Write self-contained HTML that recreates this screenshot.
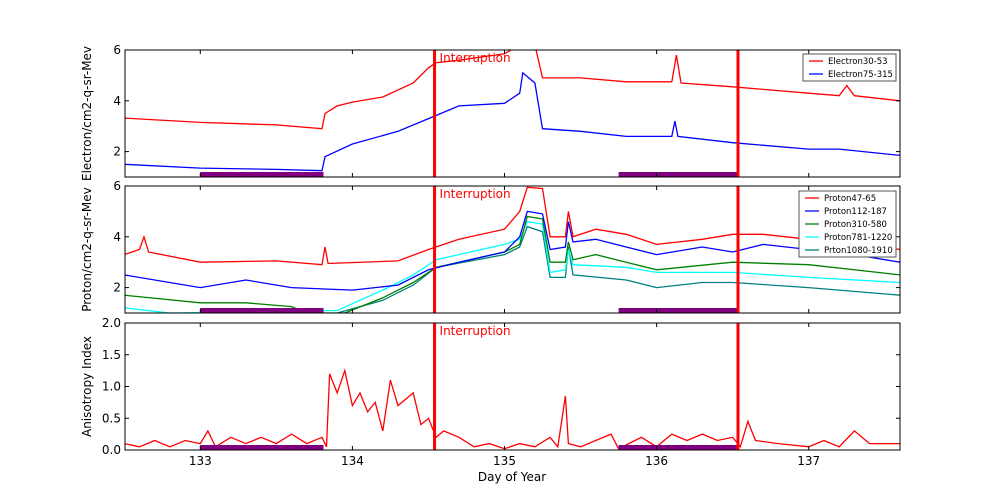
<!DOCTYPE html>
<html><head><meta charset="utf-8"><style>
html,body{margin:0;padding:0;background:#fff;}
svg{display:block;font-family:"DejaVu Sans","Liberation Sans",sans-serif;}
</style></head><body>
<svg id="chart" width="1000" height="500" viewBox="0 0 1000 500"></svg>
<script>
const xTicks=[133,134,135,136,137];
const interruptDays=[134.54,136.535];
const purpleBars=[[133.0,133.81],[135.75,136.535]];
const e30=[[132.5,3.32],[133,3.15],[133.5,3.05],[133.8,2.9],[133.82,3.5],[133.9,3.8],[134,3.95],[134.2,4.15],[134.4,4.7],[134.5,5.3],[134.55,5.5],[134.7,5.6],[135,5.85],[135.1,6.2],[135.2,6.2],[135.25,4.9],[135.5,4.9],[135.8,4.75],[136.1,4.75],[136.13,5.8],[136.16,4.7],[136.5,4.55],[137,4.3],[137.2,4.2],[137.25,4.6],[137.3,4.2],[137.6,4.0]];
const e75=[[132.5,1.5],[133,1.35],[133.5,1.3],[133.8,1.25],[133.82,1.8],[134,2.3],[134.3,2.8],[134.5,3.3],[134.7,3.8],[135,3.9],[135.1,4.3],[135.12,5.1],[135.2,4.7],[135.25,2.9],[135.5,2.8],[135.8,2.6],[136.1,2.6],[136.12,3.2],[136.14,2.6],[136.5,2.35],[137,2.1],[137.2,2.1],[137.6,1.85]];
const p47=[[132.5,3.3],[132.6,3.5],[132.63,4.0],[132.66,3.4],[133,3.0],[133.5,3.05],[133.8,2.9],[133.82,3.6],[133.84,2.95],[134.3,3.05],[134.5,3.5],[134.7,3.9],[135,4.3],[135.1,5.0],[135.15,5.95],[135.25,5.9],[135.3,4.0],[135.4,4.0],[135.42,5.0],[135.45,4.0],[135.6,4.3],[135.8,4.1],[136,3.7],[136.3,3.9],[136.5,4.1],[136.7,4.1],[137,3.9],[137.3,3.8],[137.6,3.5]];
const p112=[[132.5,2.5],[133,2.0],[133.3,2.3],[133.6,2.0],[134,1.9],[134.3,2.1],[134.5,2.7],[134.7,3.0],[135,3.4],[135.1,4.0],[135.15,5.0],[135.25,4.9],[135.3,3.5],[135.4,3.6],[135.42,4.6],[135.45,3.8],[135.6,3.9],[135.8,3.6],[136,3.3],[136.3,3.6],[136.5,3.4],[136.7,3.7],[137,3.5],[137.3,3.3],[137.6,3.0]];
const p310=[[132.5,1.7],[133,1.4],[133.3,1.4],[133.6,1.25],[133.7,1.0],[133.95,1.0],[134.2,1.6],[134.4,2.2],[134.55,2.8],[135,3.4],[135.1,3.7],[135.15,4.8],[135.25,4.7],[135.3,3.0],[135.4,3.0],[135.42,3.8],[135.45,3.1],[135.6,3.3],[135.8,3.0],[136,2.7],[136.5,3.0],[137,2.9],[137.6,2.5]];
const p781=[[132.5,1.2],[132.8,1.0],[133.9,1.1],[134.2,1.9],[134.4,2.5],[134.55,3.1],[135,3.7],[135.1,3.9],[135.15,4.6],[135.25,4.5],[135.3,2.6],[135.4,2.7],[135.42,3.5],[135.45,2.9],[135.8,2.8],[136,2.6],[136.5,2.6],[137,2.4],[137.6,2.2]];
const p1080=[[132.5,0.8],[133.9,1.0],[134.2,1.5],[134.4,2.1],[134.55,2.8],[135,3.3],[135.1,3.6],[135.15,4.4],[135.25,4.2],[135.3,2.4],[135.4,2.4],[135.42,3.6],[135.45,2.5],[135.8,2.3],[136,2.0],[136.3,2.2],[136.5,2.2],[137,2.0],[137.6,1.7]];
const aniso=[[132.5,0.1],[132.6,0.05],[132.7,0.15],[132.8,0.05],[132.9,0.15],[133,0.1],[133.05,0.3],[133.1,0.05],[133.2,0.2],[133.3,0.1],[133.4,0.2],[133.5,0.1],[133.6,0.25],[133.7,0.1],[133.8,0.2],[133.83,0.05],[133.85,1.2],[133.9,0.9],[133.95,1.25],[134,0.7],[134.05,0.9],[134.1,0.6],[134.15,0.75],[134.2,0.3],[134.25,1.1],[134.3,0.7],[134.35,0.8],[134.4,0.9],[134.45,0.4],[134.5,0.5],[134.55,0.2],[134.6,0.3],[134.7,0.2],[134.8,0.05],[134.9,0.1],[135,0.02],[135.1,0.1],[135.2,0.05],[135.3,0.2],[135.35,0.05],[135.4,0.85],[135.42,0.1],[135.5,0.05],[135.7,0.25],[135.75,0.02],[135.9,0.2],[136,0.05],[136.1,0.25],[136.2,0.15],[136.3,0.25],[136.4,0.15],[136.5,0.2],[136.55,0.05],[136.6,0.45],[136.65,0.15],[136.8,0.1],[137,0.05],[137.1,0.15],[137.2,0.05],[137.3,0.3],[137.4,0.1],[137.6,0.1]];

const NS='http://www.w3.org/2000/svg';
const svg=document.getElementById('chart');
const L=125,R=900,D0=132.505,D1=137.6;
function xs(d){return L+(d-D0)/(D1-D0)*(R-L);}
function mk(tag,attrs,parent){const e=document.createElementNS(NS,tag);for(const k in attrs)e.setAttribute(k,attrs[k]);(parent||svg).appendChild(e);return e;}
const defs=mk('defs',{});
const panels=[
 {name:'electron',top:50,bot:177,ymin:1,ymax:6,ticks:[2,4,6],fmt:v=>String(v),label:'Electron/cm2-q-sr-Mev',
  series:[[e30,'#ff0000','Electron30-53'],[e75,'#0000ff','Electron75-315']],
  legend:{x:803,y:54,w:93,h:27}},
 {name:'proton',top:186,bot:313,ymin:1,ymax:6,ticks:[2,4,6],fmt:v=>String(v),label:'Proton/cm2-q-sr-Mev',
  series:[[p1080,'#008080','Prton1080-1910'],[p781,'#00ffff','Proton781-1220'],[p310,'#008000','Proton310-580'],[p112,'#0000ff','Proton112-187'],[p47,'#ff0000','Proton47-65']],
  legend:{x:799,y:191,w:97,h:66}},
 {name:'anisotropy',top:323,bot:450,ymin:0,ymax:2,ticks:[0,0.5,1,1.5,2],fmt:v=>v.toFixed(1),label:'Anisotropy Index',
  series:[[aniso,'#ff0000',null]],legend:null}
];
panels.forEach((p,pi)=>{
 const g=mk('g',{});
 
 
 const ys=v=>p.bot-(v-p.ymin)/(p.ymax-p.ymin)*(p.bot-p.top);
 const cp=mk('clipPath',{id:'clip'+pi},defs);
 mk('rect',{x:L,y:p.top,width:R-L,height:p.bot-p.top},cp);
 p.series.forEach(s=>{
  const pl=mk('polyline',{points:s[0].map(q=>xs(q[0]).toFixed(1)+','+ys(q[1]).toFixed(1)).join(' '),fill:'none',stroke:s[1],'stroke-width':1.3,'clip-path':'url(#clip'+pi+')'},g);
  
  
 });
 purpleBars.forEach(b=>{
  const r=mk('rect',{x:xs(b[0]),y:p.bot-5,width:xs(b[1])-xs(b[0]),height:5,fill:'#800080'},g);
  
  
 });
 interruptDays.forEach((d,i)=>{
  const l=mk('line',{x1:xs(d),x2:xs(d),y1:p.top,y2:p.bot,stroke:'#ff0000','stroke-width':3},g);
  
  
 });
 const it=mk('text',{x:xs(interruptDays[0])+5,y:p.top+12,fill:'#ff0000','font-size':12},g);
 it.textContent='Interruption';
 
 
 mk('rect',{x:L,y:p.top,width:R-L,height:p.bot-p.top,fill:'none',stroke:'#000','stroke-width':1},g);
 xTicks.forEach(t=>{
  mk('line',{x1:xs(t),x2:xs(t),y1:p.bot,y2:p.bot-4,stroke:'#000'},g);
  mk('line',{x1:xs(t),x2:xs(t),y1:p.top,y2:p.top+4,stroke:'#000'},g);
  if(pi===2){const tx=mk('text',{x:xs(t),y:p.bot+15,'text-anchor':'middle','font-size':12},g);tx.textContent=t;
   }
 });
 p.ticks.forEach(t=>{
  mk('line',{x1:L,x2:L+4,y1:ys(t),y2:ys(t),stroke:'#000'},g);
  mk('line',{x1:R,x2:R-4,y1:ys(t),y2:ys(t),stroke:'#000'},g);
  const ty=mk('text',{x:L-4,y:ys(t)+4,'text-anchor':'end','font-size':12},g);ty.textContent=p.fmt(t);
  
 });
 const yl=mk('text',{x:0,y:0,'text-anchor':'middle','font-size':12,transform:'translate(91,'+((p.top+p.bot)/2)+') rotate(-90)'},g);
 yl.textContent=p.label;
 
 
 if(p.legend){
  const lg=mk('g',{},g);
  
  
  mk('rect',{x:p.legend.x,y:p.legend.y,width:p.legend.w,height:p.legend.h,fill:'#fff',stroke:'#555','stroke-width':1},lg);
  const items=p.series.slice().reverse();
  if(pi===0) items.reverse();
  items.forEach((s,i)=>{
   const yy=p.legend.y+7+i*13;
   mk('line',{x1:p.legend.x+6,x2:p.legend.x+20,y1:yy,y2:yy,stroke:s[1],'stroke-width':1.3},lg);
   const t=mk('text',{x:p.legend.x+25,y:yy+3,'font-size':8.5},lg);t.textContent=s[2];
   
  });
 }
});
const xl=mk('text',{x:512,y:481,'text-anchor':'middle','font-size':12});
xl.textContent='Day of Year';


</script>
</body></html>
